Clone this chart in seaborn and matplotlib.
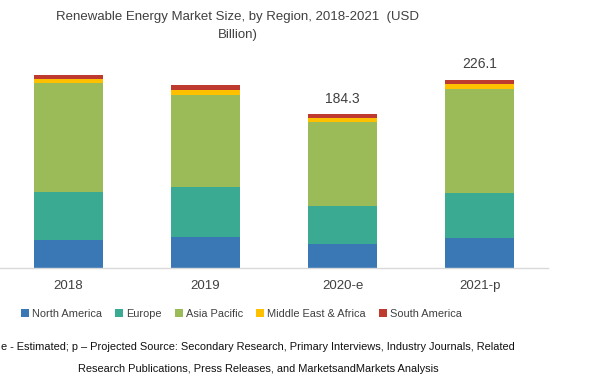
import matplotlib
matplotlib.use("Agg")
import matplotlib.pyplot as plt
import seaborn as sns
import pandas as pd
import numpy as np
from matplotlib.patches import Patch

categories = ["2018", "2019", "2020-e", "2021-p"]
regions = ["North America", "Europe", "Asia Pacific", "Middle East & Africa", "South America"]
north_america = [33.2, 36.8, 28.4, 36.4]
europe = [58.0, 60.7, 46.3, 53.6]
asia_pacific = [131.2, 110.4, 100.4, 124.8]
middle_east_africa = [4.8, 5.3, 4.4, 5.6]
south_america = [4.8, 6.0, 4.8, 5.7]
total_labels = ["", "", "184.3", "226.1"]

colors = ["#3A78B5", "#3BAA93", "#9BBB59", "#FFC000", "#BE3A2E"]

series = [north_america, europe, asia_pacific, middle_east_africa, south_america]

sns.set_theme(style="white")
plt.rcParams['font.family'] = ['Liberation Sans', 'DejaVu Sans']

fig = plt.figure(figsize=(5.99, 3.79), dpi=100)
ax = fig.add_axes([0.0, 0.2929, 0.915, 0.5717])

cum = np.cumsum(np.array(series), axis=0)
for i in range(len(regions) - 1, -1, -1):
    df = pd.DataFrame({"cat": categories, "val": cum[i]})
    sns.barplot(data=df, x="cat", y="val", color=colors[i], width=0.5,
                saturation=1, ax=ax, edgecolor="none", linewidth=0)

ax.set_xlim(-0.5, 3.5)
ax.set_ylim(0, 260)
ax.set_xlabel("")
ax.set_ylabel("")
ax.set_yticks([])
for s in ["top", "right", "left"]:
    ax.spines[s].set_visible(False)
ax.spines["bottom"].set_color("#d9d9d9")
ax.spines["bottom"].set_linewidth(1)
ax.tick_params(axis="x", length=0, pad=9, labelsize=9.5, labelcolor="#404040")

totals = cum[-1]
for xi, (t, lab) in enumerate(zip(totals, total_labels)):
    if lab:
        ax.annotate(lab, (xi, t), xytext=(0, 6), textcoords="offset points",
                    ha="center", va="bottom", fontsize=10, color="#404040")

fig.text(0.397, 0.955, "Renewable Energy Market Size, by Region, 2018-2021  (USD",
         ha="center", va="center", fontsize=9.5, color="#404040")
fig.text(0.397, 0.908, "Billion)", ha="center", va="center", fontsize=9.5, color="#404040")

handles = [Patch(facecolor=c, edgecolor="none") for c in colors]
leg = fig.legend(handles, regions, loc="center", bbox_to_anchor=(0.403, 0.172), ncol=5,
                 frameon=False, fontsize=7.9, handlelength=0.7, handleheight=0.7,
                 handletextpad=0.25, columnspacing=1.25, labelcolor="#404040")

fig.text(0.431, 0.085, "e - Estimated; p \u2013 Projected Source: Secondary Research, Primary Interviews, Industry Journals, Related",
         ha="center", va="center", fontsize=7.9, color="#111111")
fig.text(0.432, 0.027, "Research Publications, Press Releases, and MarketsandMarkets Analysis",
         ha="center", va="center", fontsize=7.9, color="#111111")

fig.savefig("out.png", dpi=100)
